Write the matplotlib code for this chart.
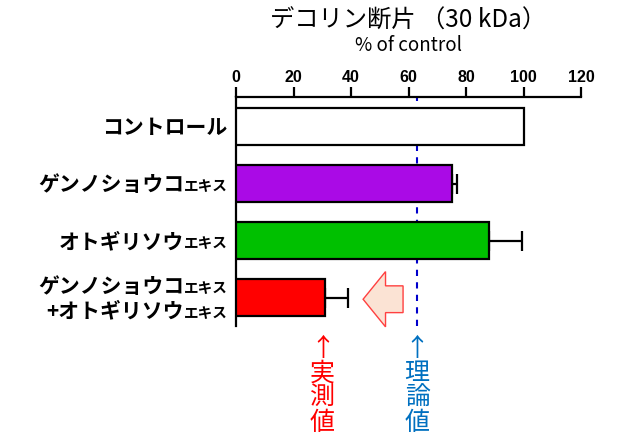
import numpy as np
import matplotlib
matplotlib.use("Agg")
import matplotlib.pyplot as plt
from matplotlib.patches import FancyArrow

plt.rcParams['font.family'] = ['Noto Sans CJK JP', 'DejaVu Sans']

# data
labels = [("コントロール", ""), ("ゲンノショウコ", "エキス"), ("オトギリソウ", "エキス"),
          ("ゲンノショウコ", "エキス", "+オトギリソウ", "エキス")]
values = [100, 75, 88, 31]
errors = [0, 2, 11.5, 8]
colors = ["white", "#aa0ae6", "#00c000", "#ff0000"]
theory = 63
xticks = [0, 20, 40, 60, 80, 100, 120]

fig = plt.figure(figsize=(6.35, 4.45), dpi=100)
ax = fig.add_axes([0.3717, 0.2674, 0.5433, 0.5146])

ypos = np.arange(len(values))
ax.barh(ypos, values, height=0.65, color=colors, edgecolor="black", linewidth=1.6, zorder=3)
for y, v, e in zip(ypos, values, errors):
    if e > 0:
        ax.errorbar(v, y, xerr=[[0], [e]], fmt="none", ecolor="black",
                    elinewidth=1.6, capsize=7, capthick=1.6, zorder=2)

ax.axvline(theory, color="#0000cc", linestyle=(0, (3, 3)), linewidth=1.5, zorder=1)

ax.set_xlim(0, 120)
ax.set_ylim(3.5, -0.52)
ax.xaxis.tick_top()
ax.set_xticks(xticks)
ax.set_xticklabels([str(t) for t in xticks], fontweight="bold", fontsize=11.5, family="Liberation Sans")
ax.tick_params(axis="x", direction="out", length=7, width=1.6, pad=2)
ax.set_yticks(ypos)
ax.set_yticklabels([])
ax.tick_params(axis="y", length=0)
for s in ["right", "bottom"]:
    ax.spines[s].set_visible(False)
ax.spines["top"].set_linewidth(1.6)
ax.spines["left"].set_linewidth(1.6)

# category labels: big main text + small "エキス"
tr = ax.get_yaxis_transform()
pad = 6
small_size = 10.5
main_size = 15


def put_label(y, main, small, dy):
    small_w = small_size * len(small)
    if small:
        ax.annotate(small, xy=(0, y), xycoords=tr, xytext=(-pad, dy - 5.5), textcoords="offset points",
                    ha="right", va="baseline", fontsize=small_size, fontweight="bold", annotation_clip=False)
    ax.annotate(main, xy=(0, y), xycoords=tr, xytext=(-pad - small_w, dy - 5.5), textcoords="offset points",
                ha="right", va="baseline", fontsize=main_size, fontweight="bold", annotation_clip=False)


for y, lab in zip(ypos, labels):
    if len(lab) == 2:
        put_label(y, lab[0], lab[1], 0)
    else:
        put_label(y, lab[0], lab[1], 9)
        put_label(y, lab[2], lab[3], -9)

# big arrow pointing left
arr = FancyArrow(58.1, 3.03, -13.9, 0, width=0.47, head_width=0.97, head_length=7.8,
                 length_includes_head=True, facecolor="#fbe3d4", edgecolor="#ff4040",
                 linewidth=1.0, clip_on=False, zorder=4)
ax.add_patch(arr)

# titles
fig.text(0.643, 0.953, "デコリン断片 （30 kDa）", ha="center", va="center", fontsize=17.5)
fig.text(0.643, 0.897, "% of control", ha="center", va="center", fontsize=13.5)

# annotations
ax.annotate("↑\n実\n測\n値", xy=(values[3], 3.5), xytext=(-2, -7), textcoords="offset points",
            ha="center", va="top", color="#ff0000", fontsize=18, linespacing=0.93,
            annotation_clip=False)
ax.annotate("↑\n理\n論\n値", xy=(theory, 3.5), xytext=(0, -7), textcoords="offset points",
            ha="center", va="top", color="#0070c0", fontsize=18, linespacing=0.93,
            annotation_clip=False)

fig.savefig("out.png", dpi=100)
